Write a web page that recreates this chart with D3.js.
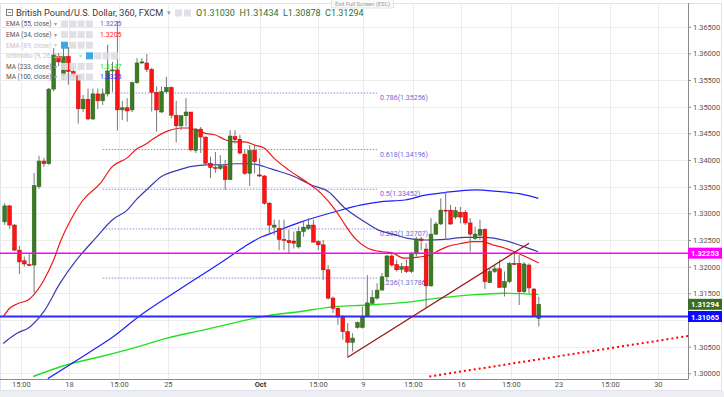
<!DOCTYPE html>
<html>
<head>
<meta charset="utf-8">
<script src="https://cdn.jsdelivr.net/npm/d3@7"></script>
<style>
body { margin: 0; background: #fff; }
svg { display: block; font-family: Roboto, "Open Sans", sans-serif; }
</style>
</head>
<body>
<svg id="chart" width="724" height="397"></svg>
<script>
// GBP/USD, bougies de 6 heures (index = numero de bougie)
var opens = [
  1.3284,1.3314,1.3278,1.3231,1.3211,1.3204,1.3203,1.3350,1.3398,1.3393,
  1.3533,1.3594,1.3559,1.3594,1.3566,1.3558,1.3496,1.3514,1.3477,1.3524,
  1.3511,1.3524,1.3567,1.3569,1.3494,1.3498,1.3494,1.3545,1.3582,1.3582,
  1.3570,1.3527,1.3490,1.3528,1.3536,1.3484,1.3464,1.3483,1.3490,1.3418,
  1.3458,1.3443,1.3394,1.3386,1.3384,1.3389,1.3363,1.3444,1.3439,1.3411,
  1.3375,1.3418,1.3372,1.3370,1.3319,1.3274,1.3272,1.3251,1.3249,1.3248,
  1.3237,1.3266,1.3272,1.3278,1.3247,1.3241,1.3194,1.3141,1.3122,1.3106,
  1.3078,1.3058,1.3086,1.3086,1.3106,1.3131,1.3141,1.3156,1.3181,1.3220,
  1.3204,1.3195,1.3200,1.3191,1.3224,1.3252,1.3233,1.3164,1.3261,1.3280,
  1.3306,1.3306,1.3293,1.3302,1.3302,1.3282,1.3253,1.3259,1.3270,1.3170,
  1.3191,1.3196,1.3161,1.3172,1.3206,1.3206,1.3153,1.3203,1.3158,1.31030
];
var highs = [
  1.3319,1.3316,1.3280,1.3239,1.3219,1.3224,1.3376,1.3408,1.3404,1.3535,
  1.3610,1.3601,1.3610,1.3612,1.3575,1.3558,1.3522,1.3534,1.3534,1.3534,
  1.3534,1.3616,1.3584,1.3661,1.3511,1.3516,1.3547,1.3591,1.3591,1.3599,
  1.3573,1.3538,1.3538,1.3556,1.3538,1.3511,1.3484,1.3516,1.3490,1.3460,
  1.3462,1.3444,1.3406,1.3415,1.3409,1.3400,1.3456,1.3456,1.3447,1.3419,
  1.3428,1.3428,1.3403,1.3372,1.3321,1.3288,1.3288,1.3288,1.3269,1.3266,
  1.3275,1.3284,1.3291,1.3288,1.3250,1.3250,1.3203,1.3144,1.3125,1.3109,
  1.3094,1.3075,1.3097,1.3125,1.3184,1.3156,1.3169,1.3188,1.3222,1.3228,
  1.3213,1.3207,1.3213,1.3228,1.3256,1.3256,1.3244,1.3291,1.3284,1.3328,
  1.3340,1.3316,1.3312,1.3312,1.3306,1.3291,1.3275,1.3288,1.3272,1.3197,
  1.3203,1.3213,1.3191,1.3209,1.3226,1.3222,1.3209,1.3206,1.3160,1.31434
];
var lows = [
  1.3278,1.3271,1.3229,1.3186,1.3200,1.3201,1.3151,1.3346,1.3387,1.3391,
  1.3529,1.3576,1.3550,1.3541,1.3551,1.3468,1.3490,1.3475,1.3475,1.3496,
  1.3503,1.3519,1.3528,1.3455,1.3475,1.3472,1.3490,1.3543,1.3580,1.3565,
  1.3491,1.3453,1.3488,1.3525,1.3478,1.3433,1.3456,1.3463,1.3416,1.3413,
  1.3413,1.3391,1.3366,1.3376,1.3381,1.3344,1.3363,1.3431,1.3411,1.3372,
  1.3351,1.3375,1.3368,1.3316,1.3263,1.3259,1.3231,1.3231,1.3225,1.3234,
  1.3234,1.3256,1.3269,1.3246,1.3231,1.3175,1.3138,1.3113,1.3091,1.3063,
  1.3030,1.3041,1.3084,1.3084,1.3106,1.3131,1.3138,1.3156,1.3172,1.3200,
  1.3191,1.3188,1.3188,1.3188,1.3219,1.3231,1.3122,1.3162,1.3259,1.3278,
  1.3250,1.3278,1.3289,1.3281,1.3278,1.3228,1.3250,1.3250,1.3158,1.3169,
  1.3188,1.3160,1.3144,1.3169,1.3203,1.3128,1.3150,1.3150,1.3106,1.30878
];
var closes = [
  1.3314,1.3278,1.3231,1.3209,1.3205,1.3202,1.3352,1.3398,1.3393,1.3533,
  1.3597,1.3584,1.3594,1.3566,1.3558,1.3496,1.3514,1.3477,1.3524,1.3511,
  1.3524,1.3567,1.3569,1.3494,1.3498,1.3492,1.3545,1.3582,1.3584,1.3570,
  1.3527,1.3494,1.3528,1.3536,1.3484,1.3464,1.3483,1.3490,1.3419,1.3458,
  1.3443,1.3394,1.3386,1.3385,1.3389,1.3363,1.3445,1.3438,1.3413,1.3375,
  1.3418,1.3397,1.3370,1.3319,1.3278,1.3278,1.3251,1.3249,1.3245,1.3244,
  1.3266,1.3274,1.3278,1.3246,1.3241,1.3194,1.3141,1.3122,1.3106,1.3078,
  1.3058,1.3066,1.3095,1.3106,1.3132,1.3142,1.3156,1.3181,1.3220,1.3203,
  1.3194,1.3200,1.3191,1.3224,1.3252,1.3249,1.3164,1.3261,1.3280,1.3306,
  1.3305,1.3280,1.3305,1.3293,1.3282,1.3261,1.3261,1.3270,1.3172,1.3191,
  1.3196,1.3161,1.3172,1.3206,1.3205,1.3153,1.3205,1.3160,1.3106,1.31294
];

// moyennes mobiles : [index, prix]
var ema34 = [[-0.3,1.3106],[1,1.3122],[2.5,1.3130],[5,1.3139],[8,1.3175],[10,1.3213],[11.5,1.3250],
  [13.5,1.3288],[16,1.3325],[19.5,1.3356],[22,1.3388],[25,1.3404],[27,1.3421],[28.5,1.3428],
  [30.5,1.3441],[33.5,1.3455],[36,1.3460],[37.5,1.3460],[39.5,1.3455],[41,1.3450],[43,1.3447],
  [45,1.3438],[47,1.3434],[49,1.3434],[51,1.3428],[53,1.3422],[55,1.3403],[58,1.3381],
  [62,1.3356],[64.5,1.3338],[67.5,1.3306],[69.5,1.3278],[71.5,1.3253],[74,1.3235],[77,1.3228],
  [79,1.3226],[81.5,1.3216],[84.5,1.3218],[87,1.3222],[88.5,1.3230],[90.5,1.3238],[93.5,1.3244],
  [95.5,1.3247],[97.5,1.3247],[99.5,1.3241],[102,1.3235],[104,1.3228],[106,1.3220],[109,1.3207]];
var ema55 = [[-0.3,1.3056],[2.5,1.3075],[5,1.3086],[8,1.3116],[11.3,1.3169],[14.7,1.3213],
  [18.6,1.3254],[22,1.3288],[25,1.3306],[27,1.3327],[29.3,1.3347],[32,1.3369],[35.4,1.3381],
  [38.2,1.3388],[41.2,1.3391],[44.3,1.3391],[47,1.3393],[49.7,1.3393],[51.8,1.3391],
  [53.8,1.3385],[55.2,1.3381],[58.8,1.3370],[62.6,1.3353],[66,1.3341],[69.4,1.3310],
  [72.8,1.3288],[76.2,1.3269],[79.6,1.3260],[82.3,1.3253],[85.8,1.3250],[89.8,1.3251],
  [93.9,1.3255],[98,1.3255],[102.1,1.3249],[105.5,1.3239],[108.9,1.3228]];
var ma100 = [[8.8,1.2990],[13.3,1.3016],[18.1,1.3044],[22.2,1.3069],[27.3,1.3106],[35.8,1.3158],
  [45,1.3213],[49,1.3238],[52.5,1.3256],[54.2,1.3262],[60.5,1.3284],[67.4,1.3303],[72.8,1.3316],
  [76.9,1.3322],[81.7,1.3325],[85.8,1.3334],[89.8,1.3339],[96,1.3344],[100.7,1.3341],
  [105.5,1.3336],[108.9,1.3328]];
var ma233 = [[5.8,1.2994],[12.7,1.3016],[19.5,1.3031],[27.3,1.3050],[33.1,1.3066],[40.5,1.3081],
  [53.7,1.3108],[60.5,1.3116],[67.4,1.3125],[74.1,1.3128],[81.7,1.3133],[88.5,1.3141],
  [95.3,1.3147],[102.1,1.3150],[108.9,1.3148]];

// niveaux de Fibonacci et dessins
var fibRatios = ["0.786", "0.618", "0.5", "0.382", "0.236"];
var fibPrices = [1.35256, 1.34196, 1.33452, 1.32707, 1.31786];
var fibStart = 20, fibEnd = 76.2;
var resistance = 1.32253, support = 1.31065;
var trendUp = [[70, 1.3030], [107, 1.3244]];
var trendDotted = [[86.65, 1.2994], [139.5, 1.3070]];

// axes
var yTicks = d3.range(14).map(function(k) { return 1.300 + k * 0.005; });
var xTickIdx = [3.3, 13.1, 23.3, 33.3, 52.1, 63.9, 73.1, 83.3, 93.1, 103.3, 113, 123.5, 133.3];
var xTickLabels = ["15:00", "18", "15:00", "25", "Oct", "15:00", "9", "15:00", "16", "15:00", "23", "15:00", "30"];

// legende
var legendNames = ["EMA (55, close)", "EMA (34, close)", "EMA (89, close)", "Ichimoku (9, 26, 52)", "MA (233, close)", "MA (100, close)"];
var legendValues = ["1.3225", "1.3205", "", "", "1.3147", "1.3325"];

//----------------------------------------------------------------
// dimensions
//----------------------------------------------------------------
var plotR = 688, plotT = 3, plotB = 379;
var svg = d3.select("#chart");

var x = d3.scaleLinear().domain([-0.96, 139.45]).range([0, plotR]);
var y = d3.scaleLinear().domain([1.300, 1.365]).range([373.3, 26.7]);

svg.append("defs").append("clipPath").attr("id", "plot")
  .append("rect").attr("x", 0).attr("y", plotT).attr("width", plotR).attr("height", plotB - plotT);

// cadre + barre du bas
svg.append("rect").attr("x", 0.5).attr("y", 3.5).attr("width", 721).attr("height", 387)
  .attr("fill", "none").attr("stroke", "#e0e3eb");
svg.append("rect").attr("x", 0).attr("y", 391).attr("width", 724).attr("height", 6).attr("fill", "#eceef2");

// grille
var grid = svg.append("g").attr("clip-path", "url(#plot)");
grid.selectAll(".hg").data(yTicks).enter().append("line")
  .attr("x1", 0).attr("x2", plotR)
  .attr("y1", function(d) { return Math.round(y(d)) + 0.5; })
  .attr("y2", function(d) { return Math.round(y(d)) + 0.5; })
  .attr("stroke", "#ececec");
grid.selectAll(".vg").data(xTickIdx).enter().append("line")
  .attr("y1", plotT).attr("y2", plotB)
  .attr("x1", function(d) { return Math.round(x(d)) + 0.5; })
  .attr("x2", function(d) { return Math.round(x(d)) + 0.5; })
  .attr("stroke", "#ececec");

var plot = svg.append("g").attr("clip-path", "url(#plot)");

// Fibonacci
fibPrices.forEach(function(p, k) {
  plot.append("line")
    .attr("x1", x(fibStart)).attr("x2", x(fibEnd))
    .attr("y1", y(p)).attr("y2", y(p))
    .attr("stroke", "#8a8ae6").attr("stroke-width", 1).attr("stroke-dasharray", "1.5,1.5");
  plot.append("text")
    .attr("x", x(fibEnd) + 2).attr("y", y(p) + 7)
    .attr("font-size", 7).attr("fill", "#6a6ad8")
    .text(fibRatios[k] + "(" + p.toFixed(5) + ")");
});

// moyennes mobiles
var line = d3.line()
  .x(function(d) { return x(d[0]); })
  .y(function(d) { return y(d[1]); })
  .curve(d3.curveMonotoneX);
[[ma233, "#22e022", 1.4], [ma100, "#1f1fff", 1.2], [ema55, "#3b3bb0", 1.2], [ema34, "#f01818", 1.2]]
  .forEach(function(s) {
    plot.append("path").datum(s[0]).attr("d", line)
      .attr("fill", "none").attr("stroke", s[1]).attr("stroke-width", s[2]);
  });

// bougies
var idx = d3.range(opens.length);
var candles = plot.selectAll(".candle").data(idx).enter().append("g");
candles.append("line")
  .attr("x1", function(i) { return x(i); }).attr("x2", function(i) { return x(i); })
  .attr("y1", function(i) { return y(highs[i]); }).attr("y2", function(i) { return y(lows[i]); })
  .attr("stroke", "#777").attr("stroke-width", 1);
candles.append("rect")
  .attr("x", function(i) { return x(i) - 1.9; })
  .attr("width", 3.8)
  .attr("y", function(i) { return y(Math.max(opens[i], closes[i])); })
  .attr("height", function(i) { return Math.max(1, Math.abs(y(opens[i]) - y(closes[i]))); })
  .attr("fill", function(i) { return closes[i] >= opens[i] ? "#3b7b22" : "#ff1414"; })
  .attr("stroke", function(i) { return closes[i] >= opens[i] ? "#2c5e18" : "#c80000"; })
  .attr("stroke-width", 0.5);

// lignes horizontales
plot.append("line").attr("x1", 0).attr("x2", plotR)
  .attr("y1", y(resistance)).attr("y2", y(resistance))
  .attr("stroke", "#ff00ff").attr("stroke-width", 1.5);
plot.append("line").attr("x1", 0).attr("x2", plotR)
  .attr("y1", y(support)).attr("y2", y(support))
  .attr("stroke", "#2b2bff").attr("stroke-width", 2);

// lignes de tendance
plot.append("line")
  .attr("x1", x(trendUp[0][0])).attr("y1", y(trendUp[0][1]))
  .attr("x2", x(trendUp[1][0])).attr("y2", y(trendUp[1][1]))
  .attr("stroke", "#9a1515").attr("stroke-width", 1.3);
plot.append("line")
  .attr("x1", x(trendDotted[0][0])).attr("y1", y(trendDotted[0][1]))
  .attr("x2", x(trendDotted[1][0])).attr("y2", y(trendDotted[1][1]))
  .attr("stroke", "#ff0000").attr("stroke-width", 2).attr("stroke-dasharray", "2,3");

// etiquettes de prix sur l'axe (les graduations cachees par une etiquette sont omises)
var last = opens.length - 1;
var tags = [[resistance, "#ff00ff"], [closes[last], "#376e1f"], [support, "#0a0aff"]];
function hidden(d) {
  return tags.some(function(t) { return Math.abs(y(d) - y(t[0])) < 9; });
}

// axe Y (droite)
var yAxis = svg.append("g").attr("transform", "translate(" + plotR + ",0)")
  .call(d3.axisRight(y).tickValues(yTicks).tickSize(3).tickPadding(2)
    .tickFormat(function(d) { return hidden(d) ? "" : d3.format(".5f")(d); }));
yAxis.select(".domain").remove();
yAxis.selectAll("line").attr("stroke", "#888");
yAxis.selectAll("text").attr("font-size", 7.5).attr("fill", "#555").attr("font-family", "Roboto, sans-serif");
svg.append("line").attr("x1", plotR + 0.5).attr("x2", plotR + 0.5).attr("y1", plotT).attr("y2", plotB)
  .attr("stroke", "#8c8c8c");

// axe X
var xAxis = svg.append("g").attr("transform", "translate(0," + plotB + ")")
  .call(d3.axisBottom(x).tickValues(xTickIdx)
    .tickFormat(function(d, i) { return xTickLabels[i]; }).tickSize(0).tickPadding(3));
xAxis.select(".domain").remove();
xAxis.selectAll("text").attr("font-size", 7.5).attr("font-family", "Roboto, sans-serif")
  .attr("font-weight", function(d, i) { return xTickLabels[i] == "Oct" ? "bold" : "normal"; })
  .attr("fill", function(d, i) { return xTickLabels[i] == "Oct" ? "#333" : "#555"; });
svg.append("line").attr("x1", 0).attr("x2", plotR + 0.5).attr("y1", plotB + 0.5).attr("y2", plotB + 0.5)
  .attr("stroke", "#8c8c8c");

tags.forEach(function(t) {
  var g = svg.append("g").attr("transform", "translate(" + plotR + "," + y(t[0]) + ")");
  g.append("rect").attr("x", 0).attr("y", -5.5).attr("width", 34).attr("height", 11).attr("fill", t[1]);
  g.append("text").attr("x", 3).attr("y", 3).attr("font-size", 7.5).attr("font-weight", "bold")
    .attr("fill", "#fff").text(t[0].toFixed(5));
});

//----------------------------------------------------------------
// en-tete
//----------------------------------------------------------------
function iconBox(xx, yy, blue) {
  svg.append("rect").attr("x", xx).attr("y", yy).attr("width", 7).attr("height", 7)
    .attr("fill", blue ? "#2a9fe0" : "#dcdee3").attr("opacity", 0.9);
}
svg.append("rect").attr("x", 6.5).attr("y", 9.5).attr("width", 6).attr("height", 6)
  .attr("fill", "none").attr("stroke", "#666").attr("stroke-width", 0.8);
svg.append("line").attr("x1", 8).attr("x2", 11).attr("y1", 12.5).attr("y2", 12.5).attr("stroke", "#666").attr("stroke-width", 0.8);
svg.append("text").attr("x", 16).attr("y", 16).attr("font-size", 9.1).attr("fill", "#3a3a3a")
  .text("British Pound/U.S. Dollar, 360, FXCM");
svg.append("text").attr("x", 167).attr("y", 15).attr("font-size", 6.5).attr("fill", "#999").text("▾");
iconBox(175, 9.5, false);
iconBox(184, 9.5, false);
svg.append("text").attr("x", 196).attr("y", 16).attr("font-size", 9).attr("fill", "#2f6e31")
  .attr("xml:space", "preserve")
  .text("O" + opens[last].toFixed(5) + "  H" + highs[last].toFixed(5) + "  L" + lows[last].toFixed(5) + "  C" + closes[last].toFixed(5));

// info-bulle
svg.append("rect").attr("x", 331.5).attr("y", -1).attr("width", 62).attr("height", 9)
  .attr("fill", "#fafafa").attr("stroke", "#d4d4d4").attr("stroke-width", 0.6);
svg.append("text").attr("x", 335).attr("y", 6).attr("font-size", 5.8).attr("fill", "#999")
  .text("Exit Full Screen (ESC)");

// legende des indicateurs
var legendColors = ["#5a5ad0", "#ff2020", null, null, "#22dd22", "#2a2aff"];
var arrowX = [54, 54, 54, 79, 54, 54];
legendNames.forEach(function(name, k) {
  var cy = 24 + k * 10.6;
  var faded = legendValues[k] == "";
  svg.append("text").attr("x", 6).attr("y", cy + 2.4).attr("font-size", 6.5)
    .attr("fill", faded ? "#c4c4c4" : "#555").text(name);
  svg.append("text").attr("x", arrowX[k]).attr("y", cy + 2.2).attr("font-size", 5.5)
    .attr("fill", faded ? "#ccc" : "#999").text("▾");
  for (var b = 0; b < 4; b++) {
    iconBox(arrowX[k] + 7 + b * 8.3, cy - 3.5, faded && b == 0);
  }
  if (!faded) {
    svg.append("text").attr("x", 100).attr("y", cy + 2.4).attr("font-size", 7)
      .attr("fill", legendColors[k]).text(legendValues[k]);
  }
});
</script>
</body>
</html>
